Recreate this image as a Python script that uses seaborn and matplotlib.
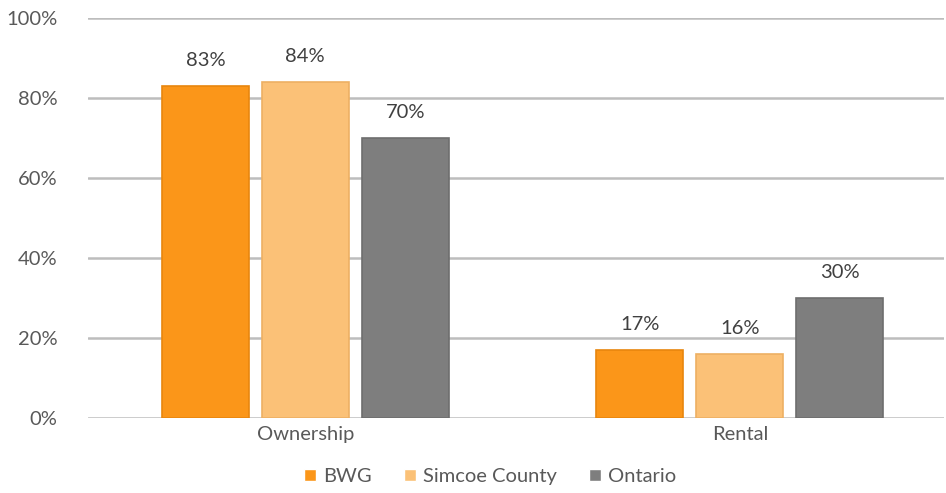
import pandas as pd
import matplotlib.pyplot as plt
import seaborn as sns

# --- data ---
categorias = ["Ownership", "Rental"]
regioes = ["BWG", "Simcoe County", "Ontario"]
bwg = [83, 17]
simcoe = [84, 16]
ontario = [70, 30]

df = pd.DataFrame({
    "tenure": categorias * 3,
    "region": [r for r in regioes for _ in categorias],
    "pct": bwg + simcoe + ontario,
})

cores = {"BWG": "#FB9619", "Simcoe County": "#FBC177", "Ontario": "#7E7E7E"}
bordas = ["#E8860E", "#EDB063", "#6E6E6E"]

sns.set_style("white")
plt.rcParams["font.family"] = ["Lato", "DejaVu Sans"]

fig = plt.figure(figsize=(9.46, 4.93), dpi=100)
ax = fig.add_axes([0.093, 0.152, 0.905, 0.8115])

sns.barplot(data=df, x="tenure", y="pct", hue="region", hue_order=regioes,
            order=categorias, palette=cores, saturation=1, width=0.69, gap=0.13,
            legend=True, ax=ax, zorder=3)

for cont, ec in zip(ax.containers, bordas):
    for barra in cont:
        barra.set_edgecolor(ec)
        barra.set_linewidth(1.2)
    ax.bar_label(cont, labels=[f"{v:.0f}%" for v in cont.datavalues],
                 padding=12, fontsize=14.5, color="#404040")

ax.set_ylim(0, 100)
ax.set_xlim(-0.5, 1.47)
ax.set_yticks(range(0, 101, 20))
ax.set_yticklabels([f"{v}%" for v in range(0, 101, 20)], fontsize=14.5, color="#595959")
ax.tick_params(axis="x", labelsize=14.5, labelcolor="#595959", length=0, pad=6)
ax.tick_params(axis="y", length=0, pad=22)
ax.yaxis.grid(True, color="#BDBDBD", linewidth=1.8, zorder=0)
ax.set_axisbelow(True)
ax.set_xlabel("")
ax.set_ylabel("")
sns.despine(ax=ax, left=True, bottom=True, top=True, right=True)

ax.legend(loc="upper center", bbox_to_anchor=(0.47, -0.08), ncol=3, frameon=False,
          fontsize=14.5, handlelength=0.6, handleheight=0.6, handletextpad=0.35,
          columnspacing=1.6, labelcolor="#595959")

plt.savefig("out.png", dpi=100)
plt.close()
